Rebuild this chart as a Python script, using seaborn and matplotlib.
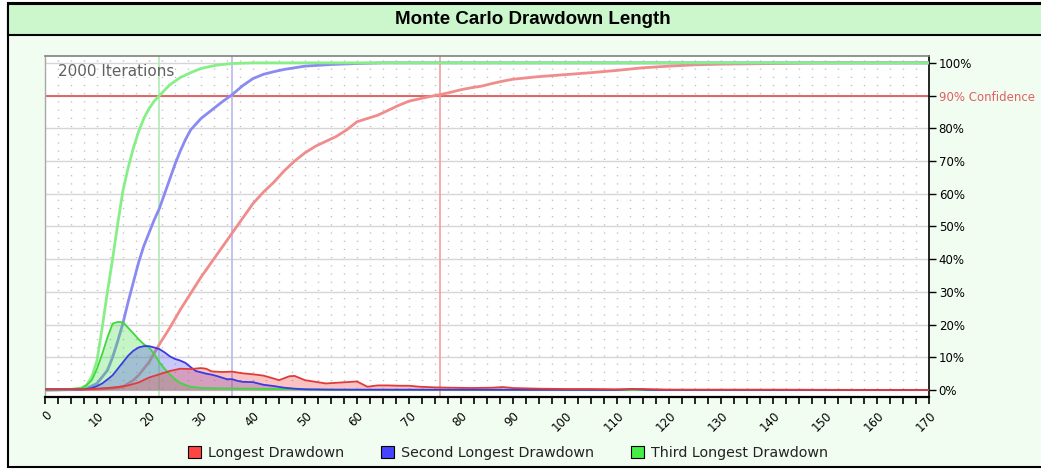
import numpy as np
import pandas as pd
import seaborn as sns
import matplotlib
matplotlib.use("Agg")
import matplotlib.pyplot as plt
from matplotlib.patches import Rectangle, Patch
from matplotlib.ticker import MultipleLocator

# ---------------- data ----------------
# cumulative distributions (percent)
green_cdf_x = [0, 5, 7, 8, 9, 10, 11, 12, 13, 14, 15, 16, 17, 18, 19, 20, 21, 22, 24, 26, 28, 30, 33, 36, 40, 170]
green_cdf_y = [0, 0.2, 0.6, 1.5, 4, 9, 19, 30, 40, 51, 61, 68, 74, 79, 83, 86, 88.3, 90, 93.3, 95.5, 97, 98.3, 99.3, 99.8, 100, 100]

blue_cdf_x = [0, 7, 8, 10, 12, 13, 14, 15, 16, 17, 18, 19, 20, 21, 22, 23, 24, 25, 26, 27, 28, 30, 32, 34, 36, 38, 40, 42, 44, 46, 50, 55, 60, 65, 170]
blue_cdf_y = [0, 0.2, 0.5, 2, 6, 10, 15, 20.5, 27, 33, 39, 44, 48, 52, 55.5, 60, 64.5, 69, 73, 76.5, 79.5, 83, 85.5, 88, 90.3, 93, 95.2, 96.5, 97.3, 98, 99, 99.5, 99.8, 100, 100]

red_cdf_x = [0, 10, 13, 15, 17, 18, 20, 22, 24, 26, 28, 30, 32, 34, 36, 38, 40, 42, 44, 46, 48, 50, 52, 54, 56, 58, 60, 62, 64, 66, 68, 70, 72, 74, 76, 78, 80, 82, 84, 86, 88, 90, 95, 100, 105, 110, 115, 120, 125, 130, 140, 150, 170]
red_cdf_y = [0, 0.2, 0.5, 1, 3, 4.5, 8.5, 14, 19, 24.5, 29.5, 34.5, 39, 43.5, 48, 52.5, 57, 60.5, 63.5, 67, 70, 72.5, 74.5, 76, 77.5, 79.5, 82, 83, 84, 85.5, 87, 88.3, 89, 89.7, 90.3, 91, 91.8, 92.4, 92.9, 93.7, 94.4, 95, 95.8, 96.4, 97, 97.7, 98.5, 99, 99.4, 99.6, 99.8, 100, 100]

# frequency distributions (percent)
green_pdf_x = [0, 5, 7, 8, 9, 10, 11, 12, 13, 14, 15, 16, 17, 18, 19, 20, 21, 22, 23, 24, 25, 26, 27, 28, 30, 34, 40, 50, 60, 170]
green_pdf_y = [0.2, 0.3, 0.5, 1.5, 3, 6.5, 11, 16, 20.3, 20.8, 20.7, 19, 17.3, 15.5, 14, 13, 11, 8.5, 6.5, 4.8, 3.3, 2.2, 1.5, 1, 0.6, 0.5, 0.4, 0.2, 0.05, 0]

blue_pdf_x = [0, 7, 8, 9, 10, 11, 12, 13, 14, 15, 16, 17, 18, 19, 20, 21, 22, 23, 24, 25, 26, 27, 28, 29, 30, 31, 32, 33, 34, 35, 36, 37, 38, 40, 42, 44, 46, 48, 50, 55, 60, 110, 113, 116, 170]
blue_pdf_y = [0.2, 0.2, 0.3, 0.6, 1.2, 2, 3.2, 4.5, 6.5, 8.5, 10.5, 12, 13, 13.4, 13.4, 13, 12.5, 11.5, 10.3, 9.5, 9, 8.3, 7, 5.8, 5.4, 5, 4.7, 4.3, 3.8, 3.3, 3.3, 2.8, 2.5, 2.4, 1.6, 1.2, 0.7, 0.4, 0.2, 0.1, 0.1, 0.05, 0.3, 0.05, 0]

red_pdf_x = [0, 8, 10, 12, 14, 16, 18, 20, 22, 24, 26, 28, 30, 31, 32, 34, 36, 38, 40, 42, 44, 45, 47, 48, 50, 52, 54, 56, 58, 60, 62, 64, 66, 68, 70, 72, 75, 78, 82, 86, 88, 90, 95, 100, 105, 110, 115, 120, 130, 140, 150, 170]
red_pdf_y = [0.2, 0.2, 0.4, 0.6, 0.9, 1.4, 2.3, 3.8, 4.8, 5.8, 6.5, 6.4, 6.7, 6.5, 5.7, 5.5, 5.6, 5.1, 4.8, 4.4, 3.5, 3.0, 4.2, 4.3, 3.0, 2.5, 2.0, 2.2, 2.4, 2.6, 1.0, 1.4, 1.4, 1.3, 1.3, 1.0, 0.8, 0.7, 0.6, 0.7, 0.9, 0.6, 0.4, 0.3, 0.3, 0.2, 0.3, 0.1, 0.1, 0.1, 0.05, 0]

# 90% confidence drawdown lengths: longest, second, third
confidence_x = [76, 36, 22]
confidence_level = 90

series_names = ["Longest Drawdown", "Second Longest Drawdown", "Third Longest Drawdown"]
y_ticks = [0, 10, 20, 30, 40, 50, 60, 70, 80, 90, 100]
x_ticks = list(range(0, 171, 10))

# ---------------- style ----------------
sns.set_style("white")
plt.rcParams['font.family'] = ['DejaVu Sans']

W, H = 1041, 470
fig = plt.figure(figsize=(W / 100, H / 100), dpi=100)
fig.patch.set_facecolor('white')

# outer frame and title band
fig.add_artist(Rectangle((8 / W, 3 / H), 1.1, 464 / H, transform=fig.transFigure,
                         facecolor='#f2fdf2', edgecolor='black', lw=1.5, zorder=0))
fig.add_artist(Rectangle((8 / W, (H - 35) / H), 1.1, 31 / H, transform=fig.transFigure,
                         facecolor='#ccf7cc', edgecolor='black', lw=1.5, zorder=0))
fig.text(533 / W, (H - 20) / H, "Monte Carlo Drawdown Length", ha='center', va='center',
         fontsize=13.5, fontweight='bold', family=['Liberation Sans', 'DejaVu Sans'], color='black')

ax = fig.add_axes([45 / W, 1 - 396.7 / H, (929 - 45) / W, (396.7 - 56) / H])
ax.set_facecolor('white')

ax.set_xlim(0, 170)
ax.set_ylim(-2.05, 102.1)

# grids
ax.xaxis.set_minor_locator(MultipleLocator(2.5))
ax.yaxis.set_minor_locator(MultipleLocator(2.5))
ax.set_yticks(y_ticks)
ax.set_xticks(x_ticks)
ax.grid(which='major', axis='y', color='#d6d6d6', lw=1, zorder=0)
ax.grid(which='minor', axis='x', color='#b8b8b8', lw=1, linestyle=(0, (0.8, 5.1)), zorder=0)
ax.grid(which='major', axis='x', color='#b8b8b8', lw=1, linestyle=(0, (0.8, 5.1)), zorder=0)
ax.set_axisbelow(True)

red_line, blue_line, green_line = '#f08c8c', '#8a8af2', '#88ee88'
red_pdf, blue_pdf, green_pdf = '#e03a3a', '#3a3ae0', '#3ed83e'
red_fill, blue_fill, green_fill = '#f04a4a', '#5a5af0', '#50e050'

# confidence lines
ax.axhline(confidence_level, color='#e05a5a', lw=1.3, zorder=2)
for cx, col in zip(confidence_x, ['#f0a0a0', '#b8b8f0', '#b0eab0']):
    ax.axvline(cx, color=col, lw=1.2, zorder=2)

# cumulative curves
for xs, ys, col in [(red_cdf_x, red_cdf_y, red_line), (blue_cdf_x, blue_cdf_y, blue_line),
                    (green_cdf_x, green_cdf_y, green_line)]:
    sns.lineplot(x=xs, y=ys, ax=ax, color=col, lw=2, zorder=3)

# distribution curves with fill
for xs, ys, lc, fc in [(green_pdf_x, green_pdf_y, green_pdf, green_fill),
                       (blue_pdf_x, blue_pdf_y, blue_pdf, blue_fill),
                       (red_pdf_x, red_pdf_y, red_pdf, red_fill)]:
    ax.fill_between(xs, 0, ys, color=fc, alpha=0.33, lw=0, zorder=4)
    sns.lineplot(x=xs, y=ys, ax=ax, color=lc, lw=1.3, zorder=5)

# spines
for side, col, lw in [('bottom', 'black', 1.6), ('right', 'black', 1.2), ('top', '#808080', 1.2), ('left', '#a8a8a8', 1.0)]:
    ax.spines[side].set_visible(True)
    ax.spines[side].set_color(col)
    ax.spines[side].set_linewidth(lw)

# y axis on right
ax.yaxis.tick_right()
ylabels = [f"{v}%" for v in y_ticks]
ylabels[y_ticks.index(confidence_level)] = f"{confidence_level}% Confidence"
ax.set_yticklabels(ylabels)
ax.tick_params(axis='y', which='major', right=True, left=False, direction='out', length=5, width=1,
               colors='black', labelsize=8.5, pad=2)
ax.tick_params(axis='y', which='minor', right=False, left=False)
for t in ax.get_yticklabels():
    if 'Confidence' in t.get_text():
        t.set_color('#e06060')

ax.set_xticklabels([str(v) for v in x_ticks])
ax.tick_params(axis='x', which='both', bottom=True, direction='out', length=5, width=1.2, colors='black')
ax.tick_params(axis='x', which='major', labelsize=8.5, pad=4)
for t in ax.get_xticklabels():
    t.set_rotation(45)
    t.set_ha('right')
    t.set_va('top')
    t.set_rotation_mode('anchor')

ax.set_xlabel('')
ax.set_ylabel('')

ax.text(0.015, 0.955, "2000 Iterations", transform=ax.transAxes, ha='left', va='center',
        fontsize=11, color='#606060', zorder=6)

handles = [Patch(facecolor='#ff4444', edgecolor='black', lw=0.8),
           Patch(facecolor='#4444ff', edgecolor='black', lw=0.8),
           Patch(facecolor='#44ee44', edgecolor='black', lw=0.8)]
fig.legend(handles, series_names, loc='center', bbox_to_anchor=(508 / W, 1 - 453 / H), ncol=3,
           frameon=False, fontsize=10.3, handlelength=0.9, handleheight=0.9, handletextpad=0.5,
           columnspacing=2.6, labelcolor='#222222')

fig.savefig("out.png", dpi=100)
